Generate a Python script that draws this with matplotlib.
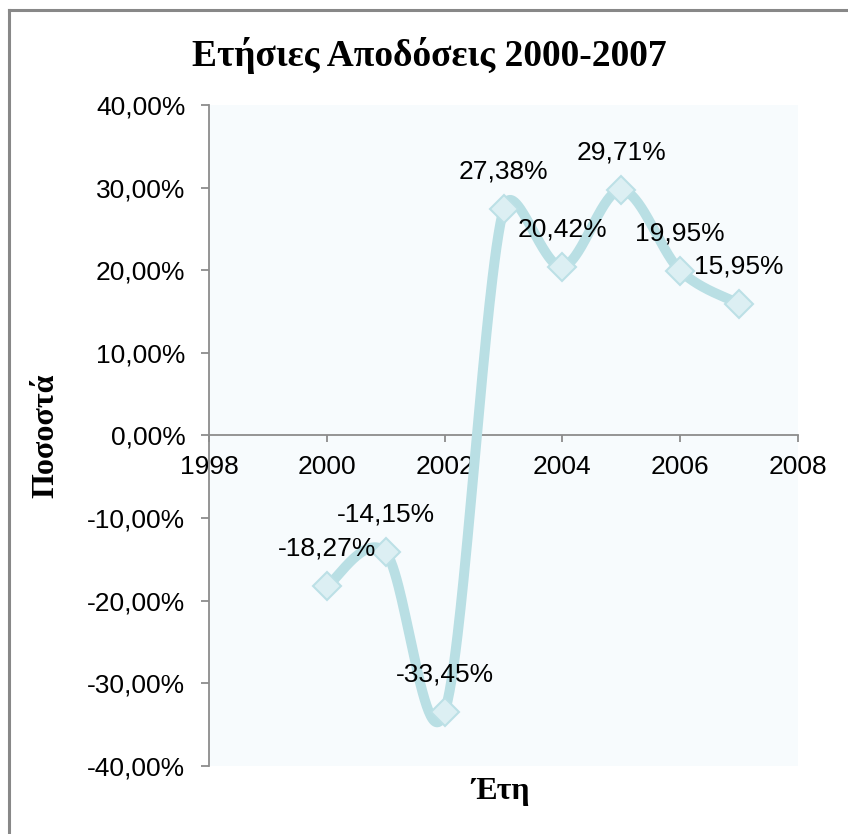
import numpy as np
import matplotlib
matplotlib.use("Agg")
import matplotlib.pyplot as plt
from matplotlib.lines import Line2D
from matplotlib.ticker import FuncFormatter, MultipleLocator

# Annual returns 2000-2007 (percent)
years = [2000, 2001, 2002, 2003, 2004, 2005, 2006, 2007]
returns = [-18.27, -14.15, -33.45, 27.38, 20.42, 29.71, 19.95, 15.95]
point_labels = ["-18,27%", "-14,15%", "-33,45%", "27,38%",
                "20,42%", "29,71%", "19,95%", "15,95%"]

title = "Ετήσιες Αποδόσεις 2000-2007"
x_title = "Έτη"
y_title = "Ποσοστά"

LINE = "#B9DFE4"
MARK_FACE = "#DCEFF3"
MARK_EDGE = "#BCE0E6"
PLOT_BG = "#F7FBFD"
AXIS = "#8C8C8C"


def smooth_curve(ax, x, y, f=1 / 6, steps=60):
    """Bezier smoothing through every point, computed in display space.
    Each control arm is (next - previous) * f, capped at half the
    length of the segment it belongs to."""
    pts = ax.transData.transform(np.column_stack([x, y]))
    n = len(pts)

    def arms(i):
        prev = pts[i - 1] if i > 0 else pts[i]
        nxt = pts[i + 1] if i + 1 < n else pts[i]
        tan = (nxt - prev) * f
        L = np.hypot(*tan)
        d_in = np.hypot(*(pts[i] - prev))
        d_out = np.hypot(*(nxt - pts[i]))
        a_in = tan * min(1, d_in / 2 / L) if L > 0 else tan
        a_out = tan * min(1, d_out / 2 / L) if L > 0 else tan
        return a_in, a_out

    out = []
    for i in range(n - 1):
        p1, p2 = pts[i], pts[i + 1]
        c1 = p1 + arms(i)[1]
        c2 = p2 - arms(i + 1)[0]
        t = np.linspace(0, 1, steps)[:, None]
        seg = ((1 - t) ** 3) * p1 + 3 * ((1 - t) ** 2) * t * c1 \
            + 3 * (1 - t) * t ** 2 * c2 + t ** 3 * p2
        out.append(seg)
    data = ax.transData.inverted().transform(np.vstack(out))
    return data[:, 0], data[:, 1]


fig = plt.figure(figsize=(8.48, 8.34), dpi=100)
fig.patch.set_facecolor("white")
ax = fig.add_axes([209 / 848, 1 - 766 / 834, 589 / 848, 661 / 834])
ax.set_facecolor(PLOT_BG)
ax.set_xlim(1998, 2008)
ax.set_ylim(-40, 40)

sx, sy = smooth_curve(ax, years, returns)
ax.plot(sx, sy, color=LINE, lw=7.2, solid_capstyle="round",
        solid_joinstyle="round", zorder=3)
ax.plot(years, returns, linestyle="none", marker="D", markersize=14.5,
        markerfacecolor=MARK_FACE, markeredgecolor=MARK_EDGE,
        markeredgewidth=1.5, zorder=4)

for xv, yv, lab in zip(years, returns, point_labels):
    ax.annotate(lab, (xv, yv), xytext=(0, 27), textcoords="offset points",
                ha="center", va="center", fontsize=19,
                family="Liberation Sans", color="black", zorder=5)

ax.xaxis.set_major_locator(MultipleLocator(2))
ax.yaxis.set_major_locator(MultipleLocator(10))
ax.yaxis.set_major_formatter(FuncFormatter(lambda v, p: f"{v:.2f}".replace(".", ",") + "%"))

for side in ("top", "right"):
    ax.spines[side].set_visible(False)
ax.spines["bottom"].set_position(("data", 0))
for side in ("left", "bottom"):
    ax.spines[side].set_color(AXIS)
    ax.spines[side].set_linewidth(1.3)

ax.tick_params(axis="both", direction="out", color=AXIS, width=1.3,
               labelsize=19, labelcolor="black")
ax.tick_params(axis="y", length=6, pad=11)
ax.tick_params(axis="x", length=5, pad=9)
for t in ax.get_xticklabels() + ax.get_yticklabels():
    t.set_family("Liberation Sans")

fig.text(0.506, 1 - 55 / 834, title, ha="center", va="center",
         fontsize=27, fontweight="bold", family="Liberation Serif")
fig.text(501 / 848, 1 - 791 / 834, x_title, ha="center", va="center",
         fontsize=23, fontweight="bold", family="Liberation Serif")
fig.text(46 / 848, 1 - 436 / 834, y_title, ha="center", va="center",
         rotation=90, fontsize=23, fontweight="bold", family="Liberation Serif")

# chart frame
fig.add_artist(Line2D([8.5 / 848, 8.5 / 848], [0, 1 - 9.5 / 834],
                      transform=fig.transFigure, color="#888888", lw=2.2))
fig.add_artist(Line2D([8.5 / 848, 1], [1 - 9.5 / 834, 1 - 9.5 / 834],
                      transform=fig.transFigure, color="#888888", lw=2.2))

fig.savefig("out.png", dpi=100, facecolor="white")
